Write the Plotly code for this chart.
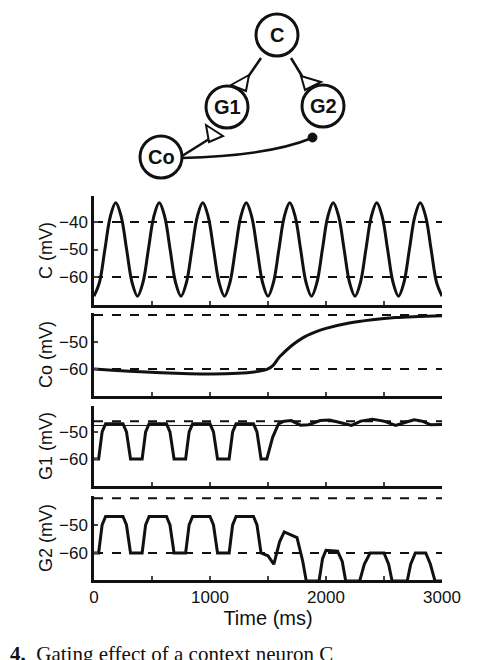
import plotly.graph_objects as go

W, H = 484, 660
# ---- data ----
c_t = [i * 375 / 8 for i in range(65)]
c_cycle = [-67, -62, -50, -38, -33, -38, -50, -62]
c_v = [c_cycle[i % 8] for i in range(65)]

co_t = [0, 1500, 1600, 1700, 1800, 1900, 2000, 2200, 2400, 2600, 2800, 3000]
co_v = [-60, -60, -55.5, -51.5, -48.5, -46.5, -45, -43, -41.8, -41, -40.6, -40.3]

bump_off = [40, 70, 100, 250, 280, 315]
g1_bump = [-60, -50, -47, -47, -50, -60]
g2_bump = [-60, -50, -47, -47, -50, -60]
g1_t = [0] + [n * 375 + o for n in range(4) for o in bump_off] + \
    [1490, 1540, 1590, 1640, 1700, 1780, 1850, 1950, 2030, 2120, 2220, 2300, 2400, 2500,
     2600, 2680, 2760, 2830, 2900, 3000]
g1_v = [-60] + g1_bump * 4 + \
    [-60, -52, -47, -46, -45.8, -47.5, -47.3, -45.8, -45.6, -46.5, -47.6, -46, -45.3, -46,
     -47.6, -46.5, -45.5, -46, -47.3, -47.2]
g2_t = [0] + [n * 375 + o for n in range(4) for o in bump_off] + \
    [1500, 1550, 1600, 1640, 1700, 1750, 1800, 1830, 1940, 1970, 2000, 2100, 2140, 2170,
     2290, 2330, 2380, 2500, 2540, 2570, 2700, 2730, 2770, 2860, 2900, 2940, 3000]
g2_v = [-60] + g2_bump * 4 + \
    [-61, -64, -56, -52.5, -53.5, -54.5, -63, -70, -70, -62, -59, -59.3, -63, -70,
     -70, -64, -60, -60, -64, -70, -70, -64, -60, -60, -64, -70, -70]

panels = [  # (name, t, v, ytop_px, ybot_px, yrange, ticks, dashed, shape)
    ("C (mV)", c_t, c_v, 188, 297, [-70.2, -30.5], [-60, -50, -40], [-40, -60], "spline"),
    ("Co (mV)", co_t, co_v, 305, 388, [-70, -39.3], [-60, -50], [-40, -60], "spline"),
    ("G1 (mV)", g1_t, g1_v, 398, 478, [-70, -40.4], [-60, -50], [-46], "linear"),
    ("G2 (mV)", g2_t, g2_v, 488, 572, [-69.6, -39.7], [-60, -50], [-40.5, -60], "linear"),
]

fig = go.Figure()
FONT = "Liberation Sans"
x0, x1 = 86 / W, 434 / W
for i, (name, t, v, yt, yb, yr, ticks, dashed, shp) in enumerate(panels):
    k = "" if i == 0 else str(i + 1)
    fig.add_trace(go.Scatter(x=t, y=v, mode="lines", line=dict(color="#111", width=3, shape=shp),
                             xaxis="x" + k, yaxis="y" + k, showlegend=False))
    for d in dashed:
        fig.add_shape(type="line", xref="x" + k, yref="y" + k, x0=0, x1=3000, y0=d, y1=d,
                      line=dict(color="#111", width=2, dash="dash"), layer="below")
    if i == 2:
        fig.add_shape(type="line", xref="x3", yref="y3", x0=0, x1=3000, y0=-47.6, y1=-47.6,
                      line=dict(color="#111", width=1), layer="below")
    last = i == 3
    fig.layout["xaxis" + k] = dict(domain=[x0, x1], range=[0, 3000], anchor="y" + k, automargin=False,
                                   tickvals=[0, 500, 1000, 1500, 2000, 2500, 3000],
                                   ticktext=["0", "", "1000", "", "2000", "", "3000"] if last else [""] * 7,
                                   ticks="inside", ticklen=4, tickwidth=2, showline=True,
                                   linewidth=2.5, linecolor="#111", showgrid=False, zeroline=False,
                                   tickfont=dict(family=FONT, size=17, color="#111"),
                                   title=dict(text="Time (ms)", standoff=0,
                                              font=dict(family=FONT, size=20, color="#111")) if last else None)
    fig.layout["yaxis" + k] = dict(domain=[1 - yb / H, 1 - yt / H], range=yr, anchor="x" + k, automargin=False,
                                   tickvals=ticks, ticktext=["\u2212" + str(-tv) for tv in ticks],
                                   ticks="inside", ticklen=4, tickwidth=2, showline=True,
                                   linewidth=2.5, linecolor="#111", showgrid=False, zeroline=False,
                                   tickfont=dict(family=FONT, size=17, color="#111"),
                                   title=dict(text=name, standoff=2,
                                              font=dict(family=FONT, size=18, color="#111")))

# ---- network diagram on pixel-coordinate axes ----
fig.layout["xaxis5"] = dict(domain=[0, 1], range=[0, W], visible=False, anchor="y5")
fig.layout["yaxis5"] = dict(domain=[1 - 180 / H, 1], range=[180, 0], visible=False, anchor="x5")
nodes = {"C": (269, 27), "G1": (219, 99), "G2": (315, 98), "Co": (153, 149)}
R = 21
lk = dict(xref="x5", yref="y5")
edges = [((253, 50), (240, 69)), ((283, 50), (294, 68)), ((174, 148), (206, 128))]
for (a, b) in edges:
    fig.add_shape(type="line", x0=a[0], y0=a[1], x1=b[0], y1=b[1], line=dict(color="#111", width=2.5), **lk)
for tri in ["M 241 67 L 223 77 L 238 83 Z", "M 293 68 L 313 74 L 297 82 Z", "M 198 117 L 201 134 L 215 128 Z"]:
    fig.add_shape(type="path", path=tri, line=dict(color="#111", width=2), fillcolor="white", **lk)
fig.add_shape(type="path", path="M 174 150 Q 260 148 304 130", line=dict(color="#111", width=2.5), **lk)
fig.add_shape(type="circle", x0=300, x1=309, y0=125, y1=134, fillcolor="#111", line=dict(color="#111", width=1), **lk)
for lab, (cx, cy) in nodes.items():
    fig.add_shape(type="circle", x0=cx - R, x1=cx + R, y0=cy - R, y1=cy + R,
                  fillcolor="white", line=dict(color="#111", width=3), **lk)
    fig.add_annotation(x=cx, y=cy, text="<b>%s</b>" % lab, showarrow=False, xref="x5", yref="y5",
                       font=dict(family=FONT, size=20, color="#111"))

fig.add_annotation(x=0, y=1 - 646 / H, xref="paper", yref="paper", xanchor="left", yanchor="middle",
                   showarrow=False, text="<b>4.</b>  Gating effect of a context neuron C",
                   font=dict(family="Liberation Serif", size=21, color="#111"))

fig.update_layout(width=W, height=H, margin=dict(l=0, r=0, t=0, b=0),
                  paper_bgcolor="white", plot_bgcolor="white")
fig.write_html("out.html")
